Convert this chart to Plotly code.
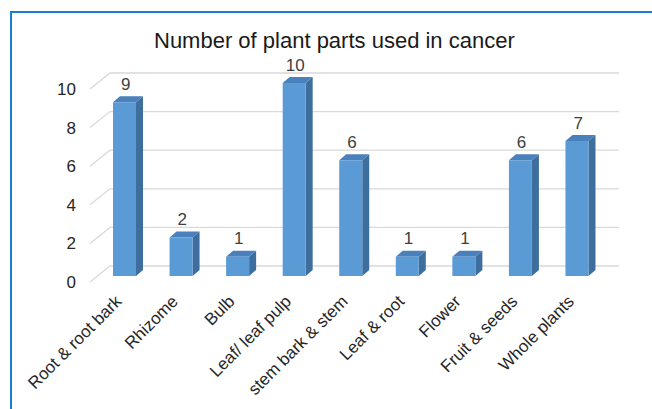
import plotly.graph_objects as go

# ---- data ----
categories = ["Root & root bark", "Rhizome", "Bulb", "Leaf/ leaf pulp", "stem bark & stem",
              "Leaf & root", "Flower", "Fruit & seeds", "Whole plants"]
counts = [9, 2, 1, 10, 6, 1, 1, 6, 7]
y_ticks = [0, 2, 4, 6, 8, 10]
title_text = "Number of plant parts used in cancer"

# ---- geometry (axis units) ----
W, H = 652, 409
px_x = 56.56          # px per category
px_y = 19.3           # px per value unit
x0_px, y0_px = 124.5, 282
xmin = -x0_px / px_x
xmax = xmin + W / px_x
ymax = y0_px / px_y
ymin = ymax - H / px_y

wall_dx, wall_dy = 20 / px_x, 16 / px_y
left_front = 90 / px_x + xmin
right_end = 619 / px_x + xmin
half_w = 11.5 / px_x
bar_dx, bar_dy = 7 / px_x, 6 / px_y
bar_base = 6 / px_y

fig = go.Figure()

# back-wall gridlines and left diagonals
gx, gy = [], []
for v in y_ticks:
    gx += [left_front, left_front + wall_dx, right_end, None]
    gy += [v, v + wall_dy, v + wall_dy, None]
fig.add_trace(go.Scatter(x=gx, y=gy, mode="lines", line=dict(color="#d9d9d9", width=1.3),
                         hoverinfo="skip", showlegend=False))

# 3D bars
fx, fy, sx, sy, tx, ty = [], [], [], [], [], []
for i, v in enumerate(counts):
    l, r = i - half_w, i + half_w
    b, t = bar_base, v + bar_base
    fx += [l, r, r, l, l, None]; fy += [b, b, t, t, b, None]
    sx += [r, r + bar_dx, r + bar_dx, r, r, None]; sy += [b, b + bar_dy, t + bar_dy, t, b, None]
    tx += [l, r, r + bar_dx, l + bar_dx, l, None]; ty += [t, t, t + bar_dy, t + bar_dy, t, None]
for xs, ys, col in [(sx, sy, "#3D6E9E"), (tx, ty, "#4A80BC"), (fx, fy, "#5B9BD5")]:
    fig.add_trace(go.Scatter(x=xs, y=ys, mode="lines", fill="toself", fillcolor=col,
                             line=dict(width=0, color=col), hoverinfo="skip", showlegend=False))

# data labels
fig.add_trace(go.Scatter(x=[i + 0.02 for i in range(len(counts))],
                         y=[v + bar_base + bar_dy + 0.55 for v in counts],
                         mode="text", text=[str(v) for v in counts],
                         textfont=dict(family="Liberation Sans, Arial", size=17, color="#404040"),
                         hoverinfo="skip", showlegend=False))

fig.update_layout(
    width=W, height=H, margin=dict(l=0, r=0, t=0, b=0),
    plot_bgcolor="white", paper_bgcolor="white",
    xaxis=dict(range=[xmin, xmax], tickmode="array", tickvals=list(range(len(categories))),
               ticktext=categories, tickangle=-45, showgrid=False, zeroline=False,
               showline=False, ticks="", anchor="free", position=1 - 287 / H,
               ticklabelshift=-8,
               tickfont=dict(family="Liberation Sans, Arial", size=17, color="#262626")),
    yaxis=dict(range=[ymin, ymax], tickmode="array", tickvals=y_ticks,
               ticktext=[str(t) for t in y_ticks], showgrid=False, zeroline=False,
               showline=False, ticks="", anchor="free", position=76 / W,
               tickfont=dict(family="Liberation Sans, Arial", size=17, color="#262626")),
    annotations=[dict(text=title_text, x=334 / W, y=1 - 40 / H, xref="paper", yref="paper",
                      showarrow=False, xanchor="center", yanchor="middle",
                      font=dict(family="Liberation Sans, Arial", size=22, color="#1a1a1a"))],
    shapes=[dict(type="rect", xref="paper", yref="paper", x0=11 / W, x1=1.1,
                 y0=-0.1, y1=1 - 12 / H, line=dict(color="#1B7CD6", width=2))],
)

fig.write_html("out.html")
